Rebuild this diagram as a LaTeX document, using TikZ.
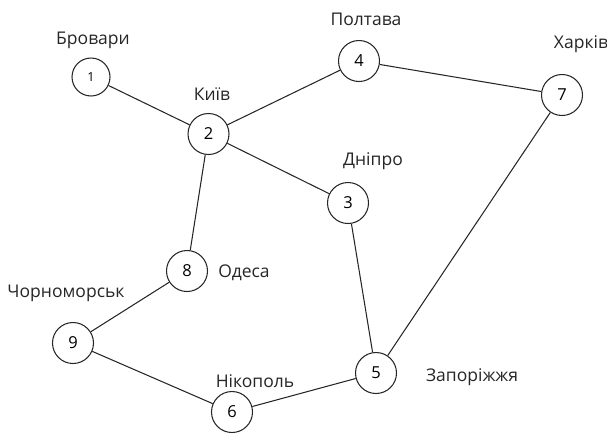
\documentclass[tikz,border=0pt]{standalone}
\usepackage{fontspec}
\setmainfont{Open Sans}
\begin{document}
\begin{tikzpicture}[x=1pt,y=-1pt,
  city/.style={circle,draw=black!85,line width=1.05pt,minimum size=41pt,inner sep=0pt,font=\fontsize{16.5}{18}\selectfont},
  lbl/.style={font=\fontsize{17.5}{19}\selectfont,text=black!85,inner sep=0pt},
  edge/.style={draw=black!85,line width=1.05pt}]
\useasboundingbox (0,0) rectangle (607,437);
\node[city,minimum size=38pt,font=\fontsize{12.5}{14}\selectfont] (n1) at (91,77) {1};
\node[city] (n2) at (208.5,134) {2};
\node[city] (n3) at (348,203) {3};
\node[city] (n4) at (359,61) {4};
\node[city] (n5) at (376,373) {5};
\node[city] (n6) at (232,412) {6};
\node[city] (n7) at (562,95) {7};
\node[city] (n8) at (187,271) {8};
\node[city] (n9) at (73,343) {9};
\node[lbl] (l1) at (93,40) {Бровари};
\node[lbl] (l2) at (212,94) {Київ};
\node[lbl] (l4) at (366,19) {Полтава};
\node[lbl] (l7) at (581,44) {Харків};
\node[lbl] (l3) at (373,161) {Дніпро};
\node[lbl] (l8) at (244,273) {Одеса};
\node[lbl] (l9) at (66,293) {Чорноморськ};
\node[lbl] (l6) at (255,381) {Нікополь};
\node[lbl] (l5) at (472,377) {Запоріжжя};
\draw[edge] (n1) -- (n2);
\draw[edge] (n2) -- (n4);
\draw[edge] (n4) -- (n7);
\draw[edge] (n2) -- (n3);
\draw[edge] (n2) -- (n8);
\draw[edge] (n3) -- (n5);
\draw[edge] (n7) -- (n5);
\draw[edge] (n8) -- (n9);
\draw[edge] (n9) -- (n6);
\draw[edge] (n6) -- (n5);
\end{tikzpicture}
\end{document}
